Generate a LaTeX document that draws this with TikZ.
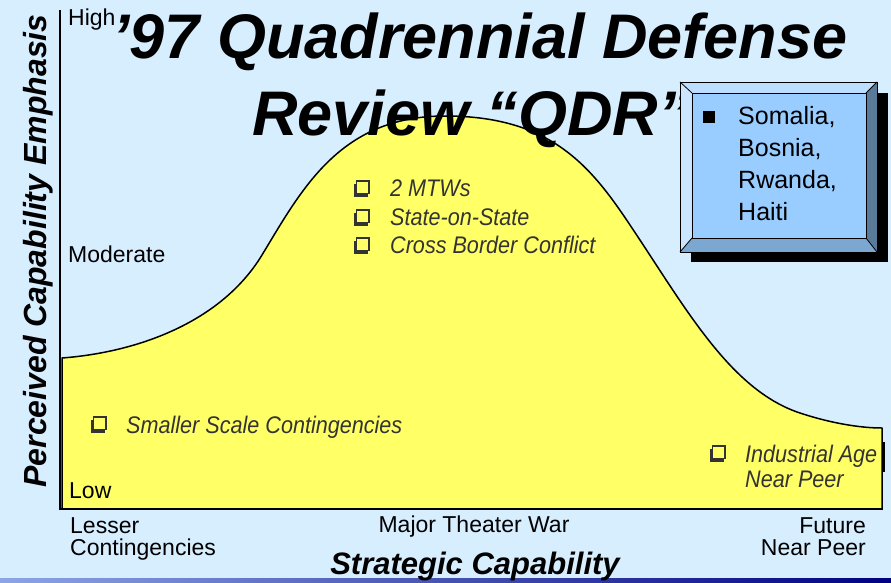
\documentclass[tikz,border=0pt]{standalone}
\usepackage{fontspec}
\setmainfont{Liberation Sans}
\newfontfamily\narrowfont[FakeStretch=0.9]{Liberation Sans}
\definecolor{bgc}{RGB}{215,238,255}
\definecolor{yel}{RGB}{255,255,102}
\definecolor{itgray}{RGB}{51,51,51}
\definecolor{bevtop}{RGB}{190,222,255}
\definecolor{bevleft}{RGB}{204,230,255}
\definecolor{bevright}{RGB}{90,122,154}
\definecolor{bevbot}{RGB}{123,167,209}
\definecolor{face}{RGB}{153,204,255}
\tikzset{
  lbl/.style={inner sep=0pt, anchor=base west, font=\fontsize{23}{26}\selectfont},
  itl/.style={inner sep=0pt, anchor=base west, text=itgray, font=\narrowfont\itshape\fontsize{24}{28}\selectfont},
  ttl/.style={inner sep=0pt, anchor=base west, font=\bfseries\itshape\fontsize{63}{63}\selectfont},
  axl/.style={inner sep=0pt, font=\bfseries\itshape\fontsize{31}{34}\selectfont},
  boxt/.style={inner sep=0pt, anchor=base west, font=\fontsize{25}{28}\selectfont},
}
\newcommand{\chkbox}[2]{%
  \fill[itgray] (#1,#2+3) rectangle (#1+14,#2+16);
  \filldraw[fill=yel, draw=itgray, line width=1.6pt] (#1+2.5,#2) rectangle (#1+15,#2+12.5);
}
\begin{document}
\begin{tikzpicture}[x=1pt,y=-1pt]
\useasboundingbox (0,0) rectangle (891,582);
\fill[bgc] (0,0) rectangle (891,582);
\shade[left color={rgb,255:red,140;green,165;blue,230}, right color={rgb,255:red,0;green,0;blue,128}] (0,578) rectangle (891,582);
% curve region
\draw[fill=yel, line width=1.5pt, line join=round] (62,509) -- (62,358)
  .. controls (140,352) and (222,321) .. (262,255)
  .. controls (302,189) and (340,116) .. (445,116)
  .. controls (550,116) and (590,165) .. (630,225)
  .. controls (685,307) and (730,390) .. (800,413)
  .. controls (830,423) and (860,428) .. (882,428)
  -- (882,509) -- cycle;
\draw[line width=2.5pt] (884,442) -- (884,472);
\draw[line width=1.5pt] (60,10) -- (60,509) -- (883,509);
% axis value labels
\node[lbl] (high) at (68,25) {High};
\node[lbl] (mod) at (68,262) {Moderate};
\node[lbl] (low) at (69,498) {Low};
\node[lbl] (les1) at (70,533) {Lesser};
\node[lbl] (les2) at (70,555) {Contingencies};
\node[lbl, anchor=base] (mtw) at (474,532) {Major Theater War};
\node[lbl, anchor=base east] (fut1) at (866,533) {Future};
\node[lbl, anchor=base east] (fut2) at (866,555) {Near Peer};
\node[axl, anchor=base] (xlab) at (475,574) {Strategic Capability};
\node[axl, rotate=90, anchor=base, font=\bfseries\itshape\fontsize{32}{34}\selectfont] (ylab) at (46,251) {Perceived Capability Emphasis};
% bullets
\chkbox{354}{181}
\node[itl] (b1) at (390,196) {2 MTWs};
\chkbox{354}{210}
\node[itl] (b2) at (390,225) {State-on-State};
\chkbox{354}{238}
\node[itl] (b3) at (390,253) {Cross Border Conflict};
\chkbox{91}{417}
\node[itl] (b4) at (126,433) {Smaller Scale Contingencies};
\chkbox{710}{446}
\node[itl] (b5) at (745,462) {Industrial Age};
\node[itl] (b6) at (745,487) {Near Peer};
% title
\node[ttl] (t1) at (112,58) {’97 Quadrennial Defense};
\node[ttl] (t2) at (252,135) {Review “QDR”};
% beveled box
\fill[black] (691,93) rectangle (888,262);
\fill[bevtop] (680,82) -- (877,82) -- (866,93) -- (692,93) -- cycle;
\fill[bevleft] (680,82) -- (692,93) -- (692,238) -- (680,252) -- cycle;
\fill[bevright] (877,82) -- (877,252) -- (866,238) -- (866,93) -- cycle;
\fill[bevbot] (680,252) -- (877,252) -- (866,238) -- (692,238) -- cycle;
\fill[face] (692,93) rectangle (866,238);
\draw[line width=1pt] (680,82) rectangle (877,252);
\draw[line width=1pt] (692,93) rectangle (866,238);
\draw[line width=0.8pt] (680,82) -- (692,93) (877,82) -- (866,93) (877,252) -- (866,238) (680,252) -- (692,238);
\fill[black] (703,111) rectangle (715,123);
\node[boxt] (s1) at (738,124) {Somalia,};
\node[boxt] (s2) at (738,156) {Bosnia,};
\node[boxt] (s3) at (738,188) {Rwanda,};
\node[boxt] (s4) at (738,220) {Haiti};
\end{tikzpicture}
\end{document}
